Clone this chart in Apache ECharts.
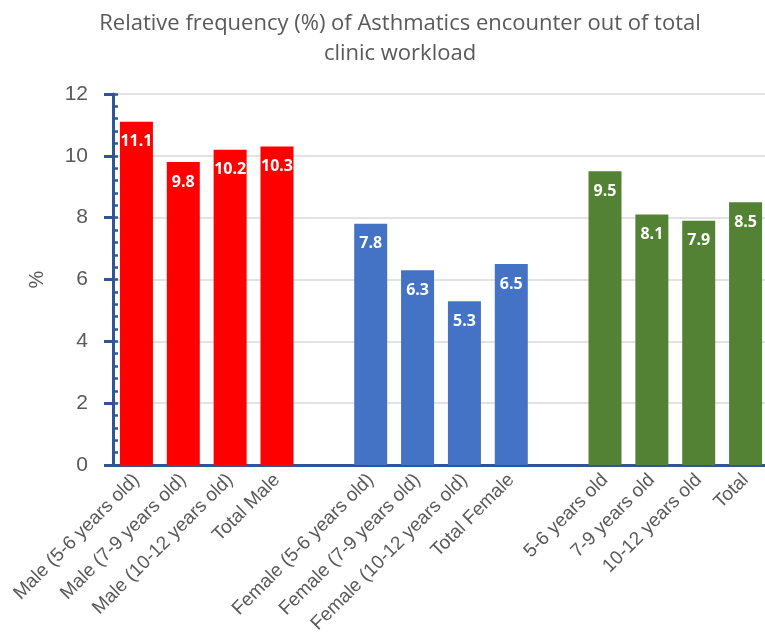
<!DOCTYPE html>
<html><head><meta charset="utf-8">
<script src="https://cdn.jsdelivr.net/npm/echarts@6/dist/echarts.min.js"></script>
<style>html,body{margin:0;padding:0;background:#fff}#c{width:765px;height:633px}</style>
</head><body><div id="c"></div>
<script>
const categories = ["Male (5-6 years old)","Male (7-9 years old)","Male (10-12 years old)","Total Male","",
  "Female (5-6 years old)","Female (7-9 years old)","Female (10-12 years old)","Total Female","",
  "5-6 years old","7-9 years old","10-12 years old","Total"];
const values = [11.1, 9.8, 10.2, 10.3, null, 7.8, 6.3, 5.3, 6.5, null, 9.5, 8.1, 7.9, 8.5];
const groupColors = ["#FF0000","#FF0000","#FF0000","#FF0000",null,"#4472C4","#4472C4","#4472C4","#4472C4",null,"#548235","#548235","#548235","#548235"];
const yTicks = [0,2,4,6,8,10,12];

const chart = echarts.init(document.getElementById('c'));
chart.setOption({
  animation:false,
  title:{text:"Relative frequency (%) of Asthmatics encounter out of total\nclinic workload",left:395,textAlign:'center',top:4,
    textStyle:{fontFamily:'Open Sans',fontSize:22,fontWeight:'normal',color:'#595959',lineHeight:30}},
  grid:{left:113,right:-4,top:94,bottom:168,outerBoundsMode:'none',containLabel:false},
  xAxis:{type:'category',data:categories,
    axisLine:{lineStyle:{color:'#2F5597',width:3}},
    axisTick:{show:false},
    axisLabel:{rotate:45,interval:0,fontFamily:'Liberation Sans',fontSize:19,color:'#595959',margin:12}},
  yAxis:[{type:'value',min:0,max:12,interval:2,
    name:'%',nameLocation:'middle',nameGap:66,nameRotate:90,nameTextStyle:{fontFamily:'Liberation Sans',fontSize:20,color:'#595959'},
    axisLine:{show:true,lineStyle:{color:'#2F5597',width:3}},
    axisTick:{show:true,length:9,lineStyle:{color:'#2F5597',width:3}},
    axisLabel:{fontFamily:'Liberation Sans',fontSize:21,color:'#595959',margin:25},
    splitLine:{lineStyle:{color:'#D9D9D9',width:1.5}}},
   {type:'value',min:0,max:12,interval:0.4,position:'left',offset:0,
    axisLine:{show:false},
    axisTick:{show:true,inside:true,length:5,lineStyle:{color:'#2F5597',width:2.5}},
    axisLabel:{show:false},splitLine:{show:false}}],
  series:[{type:'bar',barWidth:33,
    data:values.map((v,i)=>({value:v,itemStyle:{color:groupColors[i]}})),
    label:{show:true,position:'insideTop',distance:12,color:'#fff',fontFamily:'Open Sans',fontWeight:'bold',fontSize:16,
      formatter:p=>p.value==null?'':p.value.toFixed(1)}}]
});
</script></body></html>
